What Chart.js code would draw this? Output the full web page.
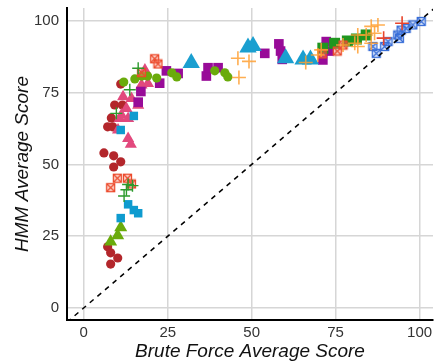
<!DOCTYPE html>
<html><head><meta charset="utf-8">
<script src="https://cdn.jsdelivr.net/npm/chart.js@4"></script>
<style>html,body{margin:0;padding:0;background:#fff;}canvas{display:block;}</style>
</head><body>
<canvas id="c" width="435" height="363"></canvas>
<script>
// ---- data (x = Brute Force Average Score, y = HMM Average Score) ----
const xTicks = [0, 25, 50, 75, 100];
const yTicks = [0, 25, 50, 75, 100];

const redCircX = [6.0, 8.9, 11.0, 8.9, 8.2, 7.1, 8.6, 9.2, 11.5, 11.0, 7.1, 8.0, 10.1, 8.0];
const redCircY = [54.0, 53.0, 50.9, 49.1, 66.2, 63.1, 63.1, 70.7, 70.7, 78.0, 21.3, 19.2, 17.4, 15.3];

const limeCircX = [11.9, 15.2, 17.3, 19.0, 21.7, 26.2, 27.7, 39.0, 42.0, 42.9];
const limeCircY = [78.7, 79.8, 80.8, 80.8, 80.1, 81.9, 80.5, 82.6, 81.9, 80.5];

const limeTriX = [11.0, 10.1, 8.0];
const limeTriY = [28.0, 25.2, 23.1];

const cyanSqX = [13.2, 14.9, 16.2, 11.0, 14.9, 11.0];
const cyanSqY = [36.1, 34.1, 33.0, 31.3, 66.9, 62.0];

const pinkTriX = [18.2, 19.1, 17.2, 11.7, 14.2, 16.2, 12.7, 11.2, 10.7, 13.2, 10.2, 13.2, 14.0];
const pinkTriY = [82.9, 78.2, 77.7, 73.6, 73.0, 70.6, 69.5, 67.2, 66.0, 66.0, 62.0, 59.0, 57.0];

const purpleSqX = [16.2, 17.0, 22.6, 24.6, 28.1, 36.5, 37.0, 40.0, 53.9, 58.1, 58.6, 59.1, 72.2, 73.0, 71.2];
const purpleSqY = [71.7, 75.4, 78.3, 82.6, 81.7, 80.8, 83.7, 83.7, 88.7, 92.0, 89.5, 86.6, 92.8, 89.5, 86.4];

const cyanTriX = [32.0, 48.9, 50.4, 60.1, 65.3, 67.5];
const cyanTriY = [85.3, 90.7, 91.3, 87.0, 86.6, 86.6];

const orangePlusX = [45.9, 46.2, 49.2, 66.1, 69.7, 70.7, 77.2, 80.7, 81.6, 81.6, 84.1, 85.6, 86.6, 87.6, 85.6];
const orangePlusY = [87.0, 80.3, 85.9, 85.5, 88.1, 89.9, 91.6, 92.2, 95.1, 91.1, 95.1, 98.1, 95.7, 98.6, 92.2];

const redPlusX = [89.3, 94.8];
const redPlusY = [94.0, 99.2];

const greenPlusX = [16.2, 13.7, 9.7, 13.2, 14.5, 12.7, 12.0];
const greenPlusY = [83.5, 76.0, 67.8, 43.0, 42.6, 41.2, 39.0];

const redXSqX = [10.0, 13.0, 14.2, 8.0, 21.1, 22.1, 17.2, 71.0, 75.5, 77.2];
const redXSqY = [45.2, 45.2, 43.2, 41.9, 86.8, 85.0, 82.0, 88.5, 89.5, 91.6];

const blueXSqX = [87.1, 86.1, 89.6, 90.6, 93.5, 94.0, 94.5, 96.0, 98.0, 100.5];
const blueXSqY = [88.7, 91.1, 91.1, 92.8, 95.1, 93.9, 96.8, 97.4, 98.6, 99.8];

const greenSqX = [71.2, 74.7, 78.5, 81.2, 84.1];
const greenSqY = [90.5, 92.2, 93.0, 93.7, 95.1];

const diagX = [-5, 105];
const diagY = [-5, 105];

// ---- helpers ----
function pts(xs, ys) { return xs.map((x, i) => ({ x: x, y: ys[i] })); }
function crossSquare(stroke, fill, size) {
  const c = document.createElement('canvas');
  c.width = size; c.height = size;
  const g = c.getContext('2d');
  g.fillStyle = fill; g.fillRect(1, 1, size - 2, size - 2);
  g.strokeStyle = stroke; g.lineWidth = 1.3;
  g.strokeRect(1.5, 1.5, size - 3, size - 3);
  g.beginPath();
  g.moveTo(1.5, 1.5); g.lineTo(size - 1.5, size - 1.5);
  g.moveTo(size - 1.5, 1.5); g.lineTo(1.5, size - 1.5);
  g.stroke();
  return c;
}
function sc(label, xs, ys, style, color, radius, extra) {
  return Object.assign({
    type: 'scatter', label: label, data: pts(xs, ys),
    pointStyle: style, pointRadius: radius, pointHoverRadius: radius,
    backgroundColor: color, borderColor: color, borderWidth: 0
  }, extra || {});
}

const redXImg = crossSquare('#ec4a2c', 'rgba(245,150,130,0.35)', 11);
const blueXImg = crossSquare('#3a6fd8', 'rgba(120,160,235,0.25)', 11);

const datasets = [
  { type: 'line', label: 'y=x', data: pts(diagX, diagY), borderColor: '#000', borderWidth: 1.5,
    borderDash: [5, 5], pointRadius: 0, fill: false },
  sc('redPlus', redPlusX, redPlusY, 'cross', '#e8452c', 7, { borderWidth: 1.6 }),
  sc('orangePlus', orangePlusX, orangePlusY, 'cross', 'rgba(255,160,50,0.85)', 7, { borderWidth: 1.6 }),
  sc('greenPlus', greenPlusX, greenPlusY, 'cross', '#2c9a2c', 6, { borderWidth: 1.4 }),
  sc('blueXSq', blueXSqX, blueXSqY, blueXImg, '#3a6fd8', 6),
  sc('redXSq', redXSqX, redXSqY, redXImg, '#ec4a2c', 6),
  sc('greenSq', greenSqX, greenSqY, 'rect', '#1f961f', 7.8),
  sc('cyanSq', cyanSqX, cyanSqY, 'rect', '#0e9bcf', 6),
  sc('cyanTri', cyanTriX, cyanTriY, 'triangle', '#1a9fd0', 10),
  sc('limeCirc', limeCircX, limeCircY, 'circle', '#6aab0c', 4.6),
  sc('purpleSq', purpleSqX, purpleSqY, 'rect', '#980b98', 6.8),
  sc('pinkTri', pinkTriX, pinkTriY, 'triangle', '#e2497d', 7),
  sc('limeTri', limeTriX, limeTriY, 'triangle', '#6aab0c', 7.5),
  sc('redCirc', redCircX, redCircY, 'circle', '#b3262b', 4.6)
];

const tickFont = { family: 'Liberation Sans, Arial, sans-serif', size: 15 };
const titleFont = { family: 'Liberation Sans, Arial, sans-serif', size: 19, style: 'italic' };

new Chart(document.getElementById('c'), {
  data: { datasets: datasets },
  options: {
    responsive: false, animation: false,
    layout: { autoPadding: false, padding: { top: 8, right: 2, left: 0, bottom: 0 } },
    plugins: { legend: { display: false }, tooltip: { enabled: false } },
    scales: {
      x: {
        type: 'linear', position: 'bottom', min: -5, max: 104,
        afterBuildTicks: s => { s.ticks = xTicks.map(v => ({ value: v })); },
        afterFit: s => { s.height = 43; s.paddingLeft = 0; s.paddingRight = 0; },
        grid: { color: '#d6d6d6', lineWidth: 1.5, drawTicks: false },
        border: { color: '#000', width: 2 },
        ticks: { font: tickFont, color: '#333', padding: 4, maxRotation: 0, autoSkip: false },
        title: { display: true, text: 'Brute Force Average Score', font: titleFont, color: '#111', padding: { top: 0, bottom: 0 } }
      },
      y: {
        type: 'linear', position: 'left', min: -4.2, max: 104.5,
        afterBuildTicks: s => { s.ticks = yTicks.map(v => ({ value: v })); },
        afterFit: s => { s.width = 67; s.paddingTop = 0; s.paddingBottom = 0; },
        grid: { color: '#d6d6d6', lineWidth: 1.5, drawTicks: false },
        border: { color: '#000', width: 2 },
        ticks: { font: tickFont, color: '#333', padding: 8, autoSkip: false },
        title: { display: true, text: 'HMM Average Score', font: titleFont, color: '#111', padding: { top: 11, bottom: 0 } }
      }
    }
  }
});
</script>
</body></html>
